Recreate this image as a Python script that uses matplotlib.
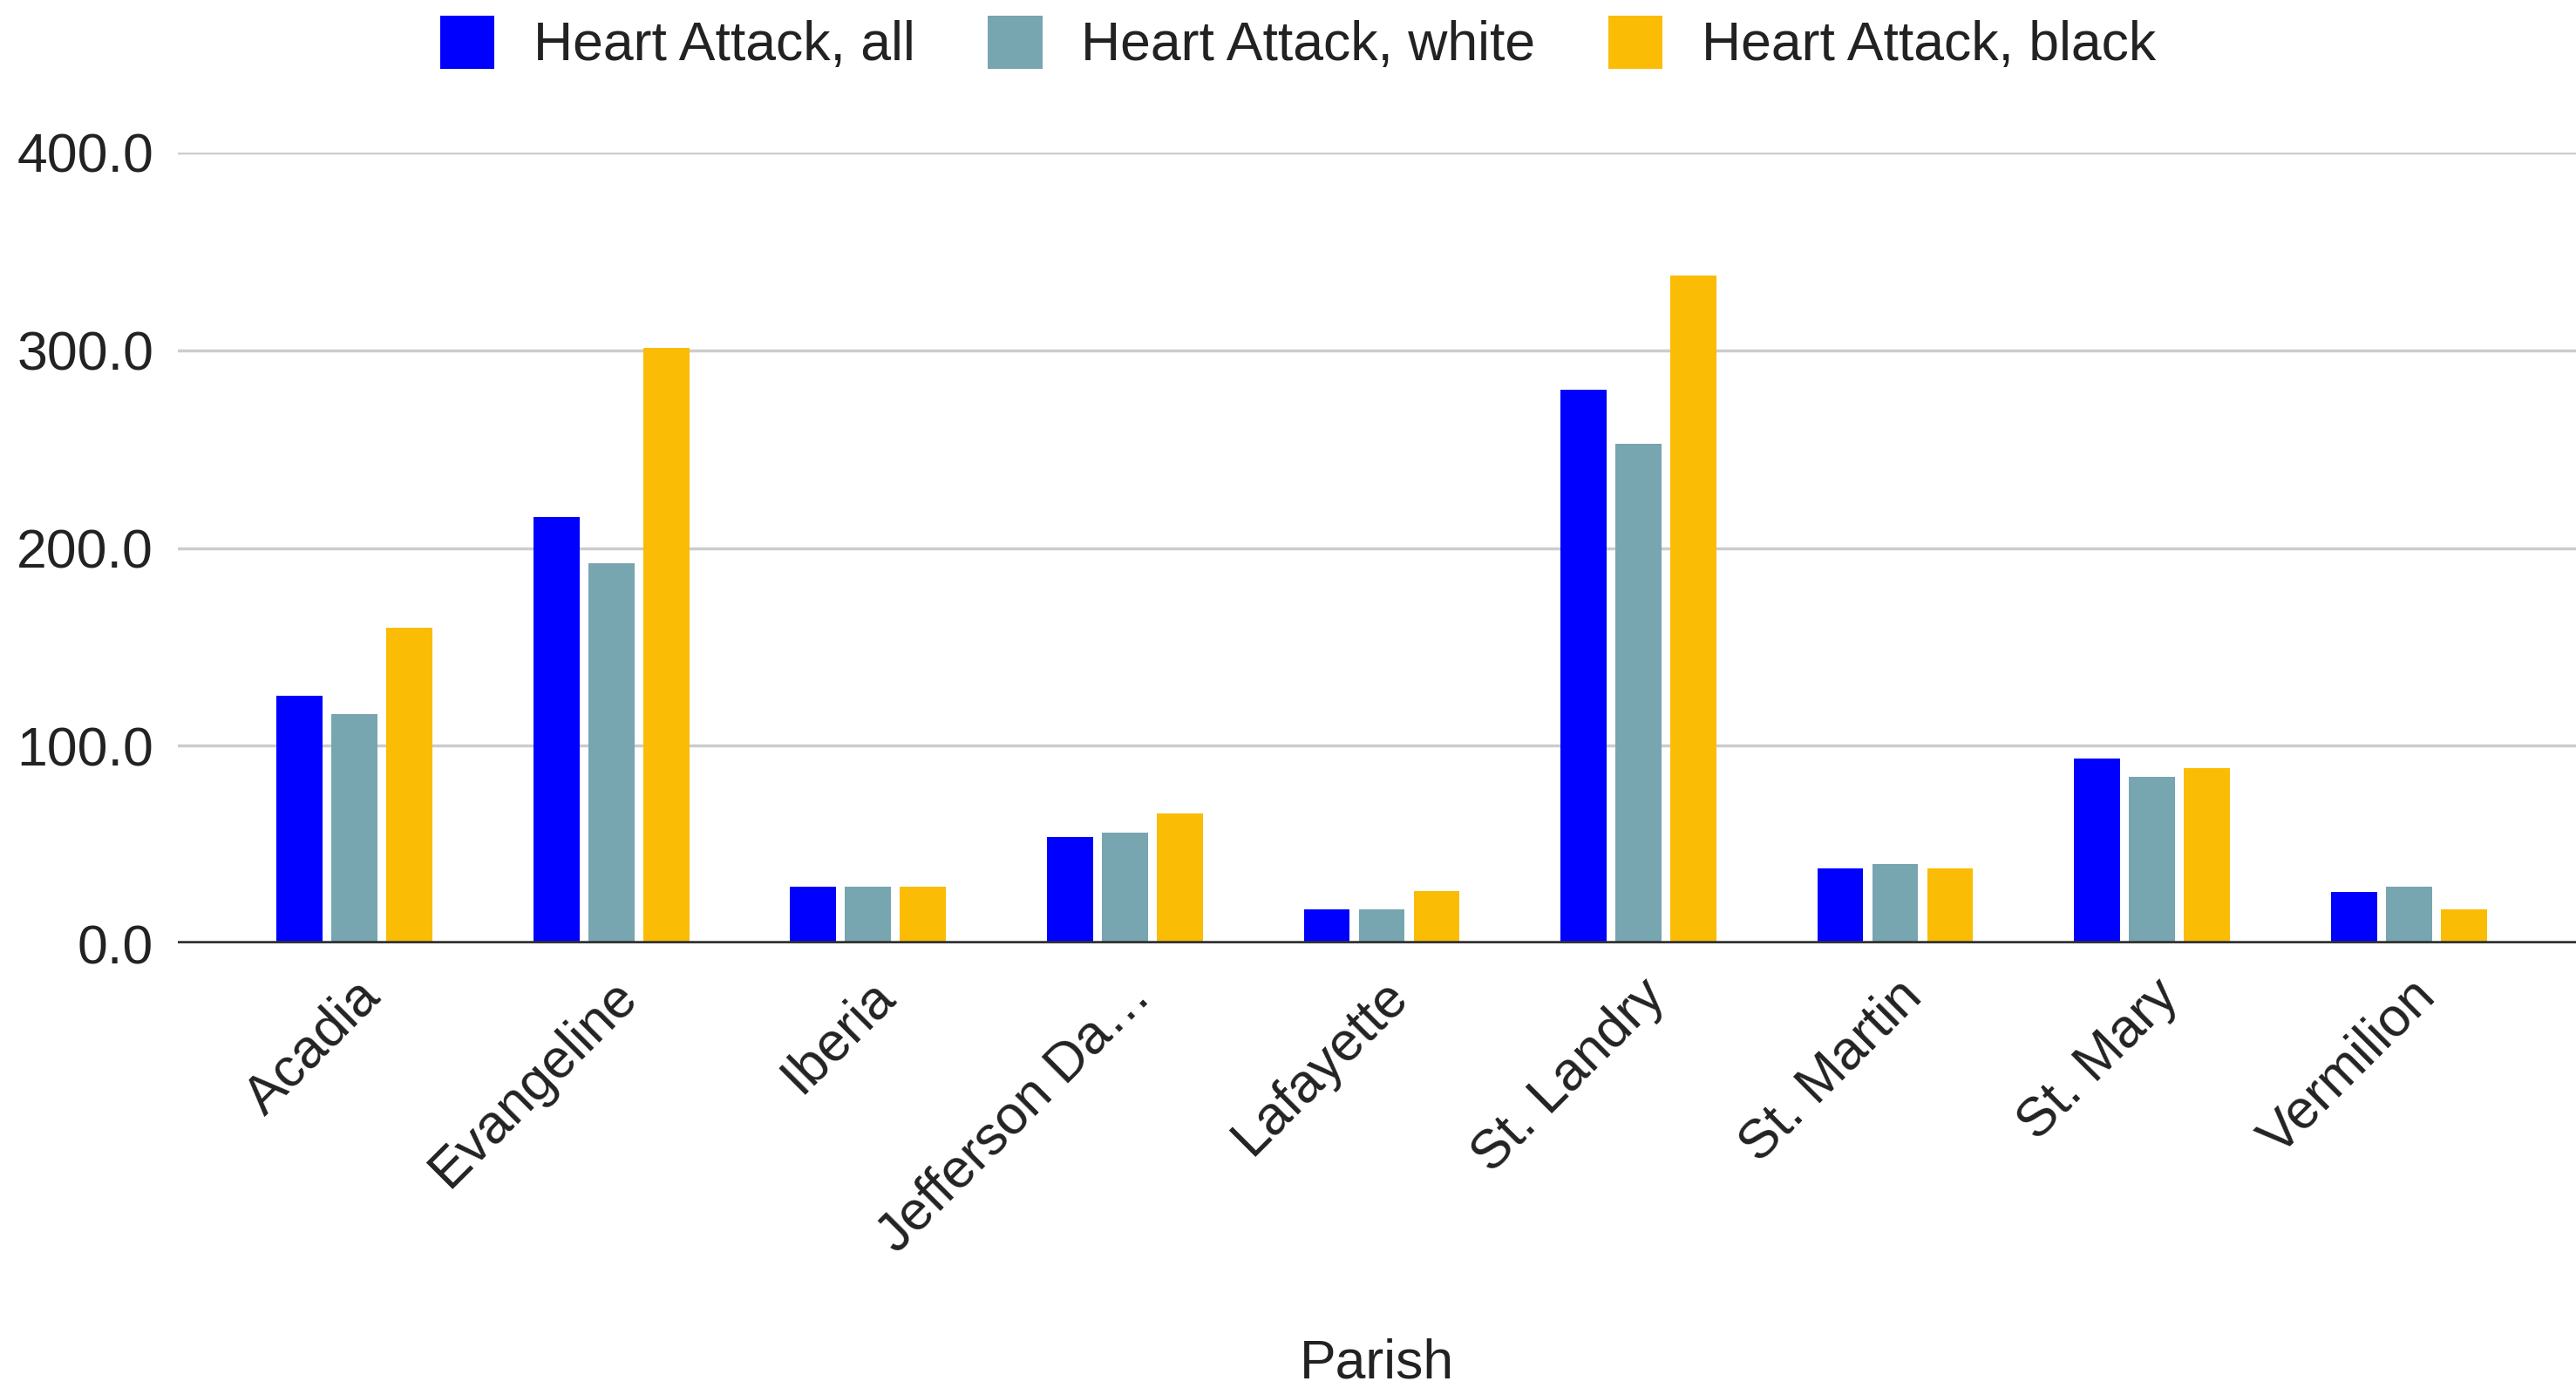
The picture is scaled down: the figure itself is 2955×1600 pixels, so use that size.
import numpy as np
import matplotlib
matplotlib.use('Agg')
import matplotlib.pyplot as plt
from matplotlib.patches import Patch
from matplotlib import rcParams

parishes = ['Acadia', 'Evangeline', 'Iberia', 'Jefferson Da\u2026', 'Lafayette',
            'St. Landry', 'St. Martin', 'St. Mary', 'Vermilion']
ha_all   = [125.2, 215.6, 28.7, 53.8, 17.3, 280.2, 37.8, 93.3, 26.2]
ha_white = [116.1, 192.4, 28.5, 56.2, 17.3, 252.5, 40.2, 84.1, 28.6]
ha_black = [159.8, 301.3, 28.5, 65.6, 26.4, 338.0, 37.8, 88.6, 17.2]
series_names = ['Heart Attack, all', 'Heart Attack, white', 'Heart Attack, black']
yticks = [0, 100, 200, 300, 400]

colors = ['#0000ff', '#77a5b0', '#fabc05']
textCol = '#222222'

rcParams['font.family'] = ['Liberation Sans', 'DejaVu Sans']
rcParams['font.size'] = 45

fig = plt.figure(figsize=(29.55, 16), dpi=100)
ax = fig.add_axes([204/2955, 1-1082/1600, 1-204/2955, (1082-175)/1600])

x = np.arange(len(parishes))
w = 0.179
step = 0.214
for i, vals in enumerate([ha_all, ha_white, ha_black]):
    ax.bar(x + (i-1)*step, vals, width=w, color=colors[i], zorder=3)

ax.set_xlim(-0.688, 8.651)
ax.set_ylim(0, 400)
ax.set_yticks(yticks)
ax.set_yticklabels(['%.1f' % v for v in yticks], color=textCol, fontsize=45)
ax.yaxis.grid(True, color='#cccccc', linewidth=2.5, zorder=0)
ax.axhline(0, color='#333333', linewidth=4, zorder=4)
for s in ['top', 'right', 'left', 'bottom']:
    ax.spines[s].set_visible(False)
ax.tick_params(axis='y', length=0, pad=20)
ax.tick_params(axis='x', length=0, pad=22)

ax.set_xticks(x)
ax.set_xticklabels(parishes, rotation=45, ha='right', va='top', rotation_mode='anchor',
                   color=textCol, fontsize=45)
ax.set_xlabel('Parish', color=textCol, fontsize=45, labelpad=0)
ax.xaxis.set_label_coords(0.5, -(1564-1082)/907, transform=ax.transAxes)
ax.xaxis.label.set_va('center')

handles = [Patch(facecolor=c, edgecolor='none') for c in colors]
fig.legend(handles, series_names, loc='center', bbox_to_anchor=(1489/2955, 1-50/1600),
           ncol=3, frameon=False, fontsize=45, handlelength=1.0, handleheight=1.13,
           handletextpad=0.72, columnspacing=1.33, labelcolor=textCol)

fig.savefig('out.png', dpi=100)
